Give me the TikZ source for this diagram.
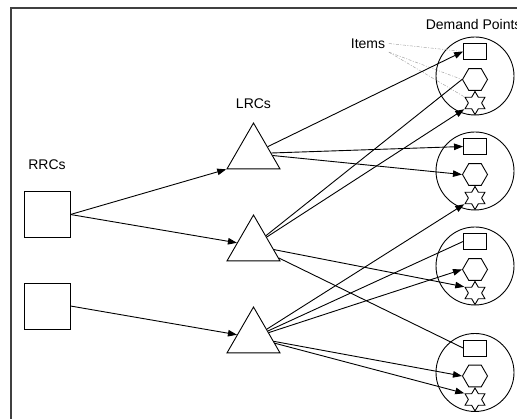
\documentclass[tikz,border=0pt]{standalone}
\usepackage{fontspec}
\setmainfont{Liberation Sans}
\usetikzlibrary{arrows.meta, positioning, shapes.geometric}

\begin{document}
\begin{tikzpicture}[x=1pt, y=-1pt, line width=0.9pt, font=\fontsize{14}{16}\selectfont,
  rrc/.style={draw, rectangle, minimum size=46pt, inner sep=0pt},
  lrc/.style={draw, regular polygon, regular polygon sides=3, minimum size=61.2pt, inner sep=0pt},
  demand/.style={draw, circle, minimum size=78pt, inner sep=0pt},
  itembox/.style={draw, rectangle, minimum width=23pt, minimum height=16pt, inner sep=0pt},
  itemhex/.style={draw, regular polygon, regular polygon sides=6, minimum size=25pt, inner sep=0pt},
  itemstar/.style={draw, star, star points=6, star point ratio=1.732, minimum size=23pt, inner sep=0pt},
  flow/.style={-{Triangle[length=9pt, width=6.5pt]}},
  itemref/.style={gray!70, line width=0.5pt, dash pattern=on 3pt off 1.5pt on 1pt off 1.5pt}]

\useasboundingbox (0,0) rectangle (517,419);

% --- Frame (cut off at right and bottom) ---
\draw[line width=1.2pt, black!75] (11,419) -- (11,8) -- (517,8);

% --- Labels ---
\node (rrclabel) at (47,164.5) {RRCs};
\node (lrclabel) at (253.5,104) {LRCs};
\node[anchor=base west] (dplabel) at (422,30) {Demand Points};
\node (itemlabel) at (368,43.5) {Items};

% --- RRCs ---
\node[rrc] (rrc1) at (47,214.5) {};
\node[rrc] (rrc2) at (47,306) {};

% --- LRCs ---
\node[lrc] (lrc1) at (253.5,153.6) {};
\node[lrc] (lrc2) at (253.5,245.6) {};
\node[lrc] (lrc3) at (253.5,337.6) {};

% --- Demand points with their items ---
\foreach \i/\y in {1/76, 2/171, 3/266, 4/372.5} {
  \node[demand] (dp\i) at (475,\y) {};
  \node[itembox] (drect\i) at ([yshift=24.5pt]dp\i) {};
  \node[itemhex] (dhex\i) at ([yshift=-3.5pt]dp\i) {};
  \node[itemstar] (dstar\i) at ([yshift=-27pt]dp\i) {};
}

% --- Items callout ---
\draw[itemref] (itemlabel.east) -- (drect1.west);
\draw[itemref] (itemlabel.south east) -- (dhex1.west);
\draw[itemref] (itemlabel.south east) -- (dstar1.150);

% --- RRC to LRC ---
\draw[flow] (rrc1.east) -- (lrc1.corner 2);
\draw[flow] (rrc1.east) -- (lrc2);
\draw[flow] (rrc2.east) -- (lrc3);

% --- LRC to demand points ---
\draw[flow] (lrc1) -- (drect1.west);
\draw[flow] (lrc1) -- (drect2.west);
\draw[flow] (lrc1) -- (dhex2.west);

\draw (lrc2) -- (dhex1.west);
\draw[flow] (lrc2) -- (dstar1.210);
\draw[flow] (lrc2) -- (dstar3.150);
\draw (lrc2) -- (drect4.west);

\draw[flow] (lrc3) -- (dstar2.210);
\draw (lrc3) -- (drect3.west);
\draw[flow] (lrc3) -- (dhex3.west);
\draw[flow] (lrc3) -- (dhex4.west);
\draw[flow] (lrc3) -- (dstar4.150);

\end{tikzpicture}
\end{document}
